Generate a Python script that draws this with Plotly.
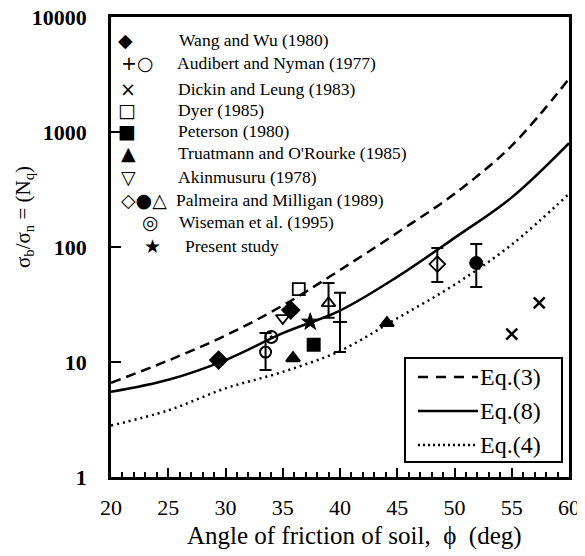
import plotly.graph_objects as go

# ---------------- data ----------------
phi_curve = [20, 25, 30, 35, 40, 45, 50, 55, 60]
eq3_nq = [6.6, 10.3, 17.0, 31, 63, 133, 290, 760, 2900]
eq8_nq = [5.5, 7.0, 10.4, 17.8, 28, 55, 120, 270, 800]
eq4_nq = [2.8, 3.8, 5.9, 8.2, 12.5, 24, 47, 105, 290]

wang_phi = [29.4, 35.7]
wang_nq = [10.4, 28.3]
aud_phi = [33.5]
aud_nq = [12.2]
aud_lo = [8.5]
aud_hi = [17.9]
dickin_phi = [55.0, 57.4]
dickin_nq = [17.5, 32.6]
dyer_phi = [36.4]
dyer_nq = [43]
peterson_phi = [37.7]
peterson_nq = [14.1]
traut_phi = [35.9, 44.1]
traut_nq = [10.8, 21.8]
akin_phi = [35.0]
akin_nq = [24.1]
palm_dia_phi = [48.5]
palm_dia_nq = [71]
palm_dia_lo = [49.7]
palm_dia_hi = [98]
palm_circ_phi = [51.9]
palm_circ_nq = [72.6]
palm_circ_lo = [45]
palm_circ_hi = [106]
palm_tri_phi = [39.0]
palm_tri_nq = [32.5]
palm_tri_lo = [24.2]
palm_tri_hi = [48.7]
wise_phi = [34.0]
wise_nq = [16.5]
present_phi = [37.4]
present_nq = [22.3]
range_phi = [40.0]
range_nq = [22.3]
range_lo = [12.2]
range_hi = [40]

x_ticks = [20, 25, 30, 35, 40, 45, 50, 55, 60]
y_ticks = [1, 10, 100, 1000, 10000]
y_ticklabels = ["1", "10", "100", "1000", "10000"]

legend_labels = ["Wang and Wu (1980)", "Audibert and Nyman (1977)", "Dickin and Leung (1983)",
                 "Dyer (1985)", "Peterson (1980)", "Truatmann and O'Rourke (1985)",
                 "Akinmusuru (1978)", "Palmeira and Milligan (1989)", "Wiseman et al. (1995)",
                 "Present study"]
legend_glyphs = ["◆", "+○", "×", "□", "■", "▲", "▽", "◇●△", "◎", "★"]
eq_labels = ["Eq.(3)", "Eq.(8)", "Eq.(4)"]

# ---------------- layout helpers ----------------
# page body has an 8px margin, so the figure is drawn 8px smaller and all
# screen positions below are given in window pixels.
OFF = 8
W, H = 585 - OFF, 556 - OFF
L, R, T, B = 111, 569, 17, 477          # plot area in window pixels
SERIF = "Liberation Serif, Times New Roman, serif"


def px(xp):
    return (xp - L) / (R - L)


def py(yp):
    return (B - yp) / (B - T)


fig = go.Figure()

# curves
for ys, dash in [(eq3_nq, "10px,6px"), (eq8_nq, "solid"), (eq4_nq, "2px,4px")]:
    fig.add_trace(go.Scatter(x=phi_curve, y=ys, mode="lines",
                             line=dict(color="black", width=2.5, dash=dash, shape="spline", smoothing=1.0),
                             showlegend=False, hoverinfo="skip"))


def err(lo, hi, nq):
    return dict(type="data", symmetric=False,
                array=[h - v for h, v in zip(hi, nq)],
                arrayminus=[v - l for l, v in zip(lo, nq)],
                color="black", thickness=2, width=6)


def pts(x, y, symbol, size=11, lw=2, error=None):
    kw = {}
    if error is not None:
        kw["error_y"] = error
    fig.add_trace(go.Scatter(x=x, y=y, mode="markers",
                             marker=dict(symbol=symbol, size=size, color="black",
                                         line=dict(color="black", width=lw)),
                             showlegend=False, **kw))


pts(wang_phi, wang_nq, "diamond", 13)
pts(aud_phi, aud_nq, "circle-open", 11, 2, err(aud_lo, aud_hi, aud_nq))
pts(dickin_phi, dickin_nq, "x-thin-open", 11, 2.5)
pts(dyer_phi, dyer_nq, "square-open", 12, 1.8)
pts(peterson_phi, peterson_nq, "square", 12)
pts(traut_phi, traut_nq, "triangle-up", 12)
pts(akin_phi, akin_nq, "triangle-down-open", 12, 1.8)
pts(palm_dia_phi, palm_dia_nq, "diamond-open", 12, 1.8, err(palm_dia_lo, palm_dia_hi, palm_dia_nq))
pts(palm_circ_phi, palm_circ_nq, "circle", 13, 1, err(palm_circ_lo, palm_circ_hi, palm_circ_nq))
pts(palm_tri_phi, palm_tri_nq, "triangle-up-open", 12, 1.8, err(palm_tri_lo, palm_tri_hi, palm_tri_nq))
pts(wise_phi, wise_nq, "circle-open-dot", 12, 2)
pts(present_phi, present_nq, "star", 13, 1)
pts(range_phi, range_nq, "line-ew-open", 10, 2, err(range_lo, range_hi, range_nq))

# ---------------- top-left legend (glyphs + text) ----------------
glyph_x = [125, 137, 128, 127, 127, 128, 128, 144, 150, 152]
row_y = [40, 63, 89, 110, 131, 153, 177, 200, 222, 246]
text_x = [177, 175, 176, 176, 176, 176, 176, 174, 177, 183]
for g, lab, gx, ry, tx in zip(legend_glyphs, legend_labels, glyph_x, row_y, text_x):
    fig.add_annotation(x=px(gx), y=py(ry), xref="paper", yref="paper", text=g, showarrow=False,
                       xanchor="center", yanchor="middle",
                       font=dict(family="DejaVu Sans", size=19, color="black"))
    fig.add_annotation(x=px(tx), y=py(ry), xref="paper", yref="paper", text=lab, showarrow=False,
                       xanchor="left", yanchor="middle",
                       font=dict(family=SERIF, size=17.5, color="black"))

# ---------------- bottom-right legend box ----------------
fig.add_shape(type="rect", xref="paper", yref="paper", x0=px(405), x1=px(562), y0=py(462), y1=py(358),
              line=dict(color="black", width=2), fillcolor="white", layer="above")
for lab, ly, dash in zip(eq_labels, [377, 411, 445], ["10px,8px", "solid", "2px,3px"]):
    fig.add_shape(type="line", xref="paper", yref="paper", x0=px(418), x1=px(478), y0=py(ly), y1=py(ly),
                  line=dict(color="black", width=2.5, dash=dash), layer="above")
    fig.add_annotation(x=px(478), y=py(ly), xref="paper", yref="paper", text=lab, showarrow=False,
                       xanchor="left", yanchor="middle",
                       font=dict(family=SERIF, size=24, color="black"))

# y title
fig.add_annotation(x=px(24), y=py(217), xref="paper", yref="paper",
                   text="σ<sub>b</sub>/σ<sub>n</sub> = (N<sub>q</sub>)", showarrow=False,
                   textangle=-90, xanchor="center", yanchor="middle",
                   font=dict(family=SERIF, size=21, color="black"))

# x title
fig.add_annotation(x=px(354), y=py(536), xref="paper", yref="paper",
                   text="Angle of friction of soil,  ϕ  (deg)", showarrow=False,
                   xanchor="center", yanchor="middle",
                   font=dict(family=SERIF, size=25, color="black"))

fig.update_layout(
    width=W, height=H,
    margin=dict(l=L - OFF, r=585 - R, t=T - OFF, b=556 - B, autoexpand=False),
    paper_bgcolor="white", plot_bgcolor="white",
    font=dict(family=SERIF, color="black"),
    xaxis=dict(range=[20, 60], tickvals=x_ticks, ticks="inside", ticklen=9, tickwidth=2,
               tickcolor="black", showgrid=False, zeroline=False, showline=True, linewidth=2.5,
               linecolor="black", mirror=True, tickfont=dict(family=SERIF, size=22),
               automargin=False, ticklabelstandoff=9, ticklabeloverflow="allow",
               minor=dict(dtick=1, ticks="inside", ticklen=5, tickwidth=1.5, tickcolor="black")),
    yaxis=dict(type="log", range=[0, 4], tickvals=y_ticks, ticktext=y_ticklabels, ticks="inside",
               ticklen=10, tickwidth=1.5, tickcolor="black", showgrid=False, zeroline=False,
               showline=True, linewidth=2.5, linecolor="black", mirror=True, automargin=False,
               ticklabelstandoff=17, ticklabeloverflow="allow",
               tickfont=dict(family=SERIF, size=22, weight="bold")),
    showlegend=False,
)

fig.write_html("out.html")
